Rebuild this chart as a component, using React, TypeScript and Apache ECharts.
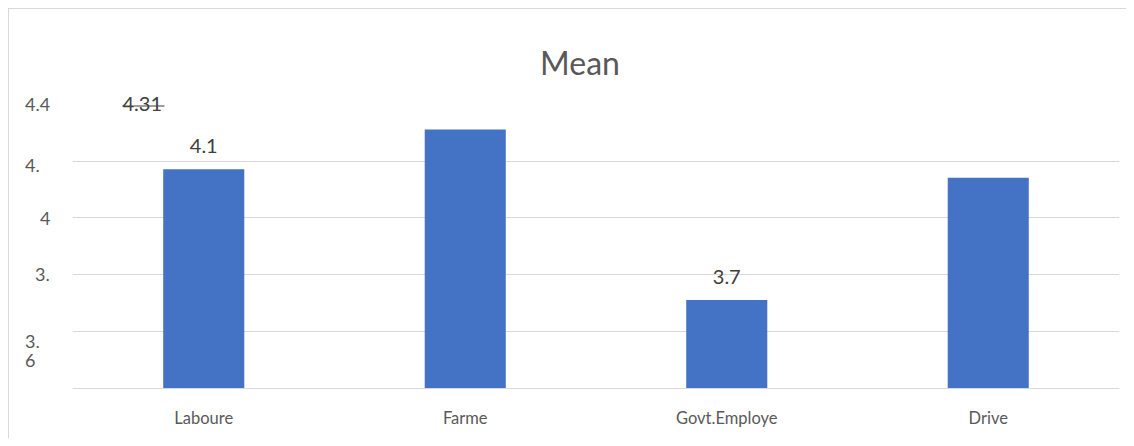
import React, { useEffect, useRef } from "react";
import * as echarts from "echarts";

const chartTitle = "Mean";
const categories = ["Laboure", "Farme", "Govt.Employe", "Drive"];
const meanValues = [4.17, 4.31, 3.71, 4.14];
const dataLabels = ["4.1", "", "3.7", ""];
const yTicks = [3.4, 3.6, 3.8, 4.0, 4.2, 4.4];
const yTickLabels = ["", "3.\n6", "3.", "4", "4.", "4.4"];
const strayLabel = "4.31";

export default function App() {
  const ref = useRef<HTMLDivElement>(null);
  useEffect(() => {
    if (!ref.current) return;
    const chart = echarts.init(ref.current, undefined, { renderer: "svg" });
    const font = "Lato, 'Open Sans', sans-serif";
    const gridColors = yTicks.map((_, i) => (i === yTicks.length - 1 ? "rgba(0,0,0,0)" : "#d9d9d9"));
    const base = { fontFamily: font, fontSize: 18, color: "#595959" };
    chart.setOption({
      animation: false,
      backgroundColor: "#ffffff",
      title: {
        text: chartTitle,
        left: 566,
        textAlign: "center",
        top: 32,
        textStyle: { fontFamily: font, fontSize: 32, fontWeight: "normal", color: "#595959" },
      },
      grid: { left: 64, right: 7, top: 95, bottom: 50 },
      xAxis: {
        type: "category",
        data: categories,
        axisLine: { show: true, lineStyle: { color: "#d9d9d9", width: 1 } },
        axisTick: { show: false },
        axisLabel: { margin: 21, fontFamily: font, fontSize: 16.5, color: "#595959" },
      },
      yAxis: {
        type: "value",
        min: yTicks[0],
        max: yTicks[yTicks.length - 1],
        interval: 0.2,
        axisLine: { show: false },
        axisTick: { show: false },
        splitLine: { show: true, lineStyle: { color: gridColors, width: 1 } },
        axisLabel: {
          margin: 48,
          align: "left",
          fontFamily: font,
          fontSize: 18,
          color: "#595959",
          lineHeight: 19,
          formatter: (v: number) => {
            const idx = yTicks.findIndex((t) => Math.abs(t - v) < 1e-6);
            const lab = idx >= 0 ? yTickLabels[idx] : "";
            if (!lab) return "";
            if (lab.includes("\n")) return "\n\n" + lab;
            if (lab === "4.") return `{c|${lab}}`;
            if (lab === "4") return `{d|${lab}}`;
            if (lab === "3.") return `{e|${lab}}`;
            return `{r|${lab}}`;
          },
          rich: {
            r: { ...base },
            c: { ...base, padding: [8, 0, 0, 0] },
            d: { ...base, padding: [0, 0, 0, 15] },
            e: { ...base, padding: [0, 0, 0, 10] },
          },
        },
      },
      series: [
        {
          type: "bar",
          data: meanValues,
          barWidth: "31%",
          itemStyle: { color: "#4472C4" },
          label: {
            show: true,
            position: "top",
            distance: 14,
            fontFamily: font,
            fontSize: 20,
            color: "#404040",
            formatter: (p: any) => dataLabels[p.dataIndex],
          },
        },
      ],
      graphic: [
        {
          type: "group",
          left: 111,
          top: 84,
          children: [
            {
              type: "text",
              x: 0,
              y: 0,
              style: { text: strayLabel, fontFamily: font, fontSize: 20, fill: "#404040" },
            },
            {
              type: "line",
              shape: { x1: 0, y1: 13, x2: 42, y2: 13 },
              style: { stroke: "#404040", lineWidth: 1.2 },
            },
          ],
        },
      ],
    });
    return () => chart.dispose();
  }, []);
  return (
    <div
      ref={ref}
      style={{
        width: 1118,
        height: 430,
        boxSizing: "border-box",
        borderLeft: "1px solid #d9d9d9",
        borderTop: "1px solid #d9d9d9",
      }}
    />
  );
}
